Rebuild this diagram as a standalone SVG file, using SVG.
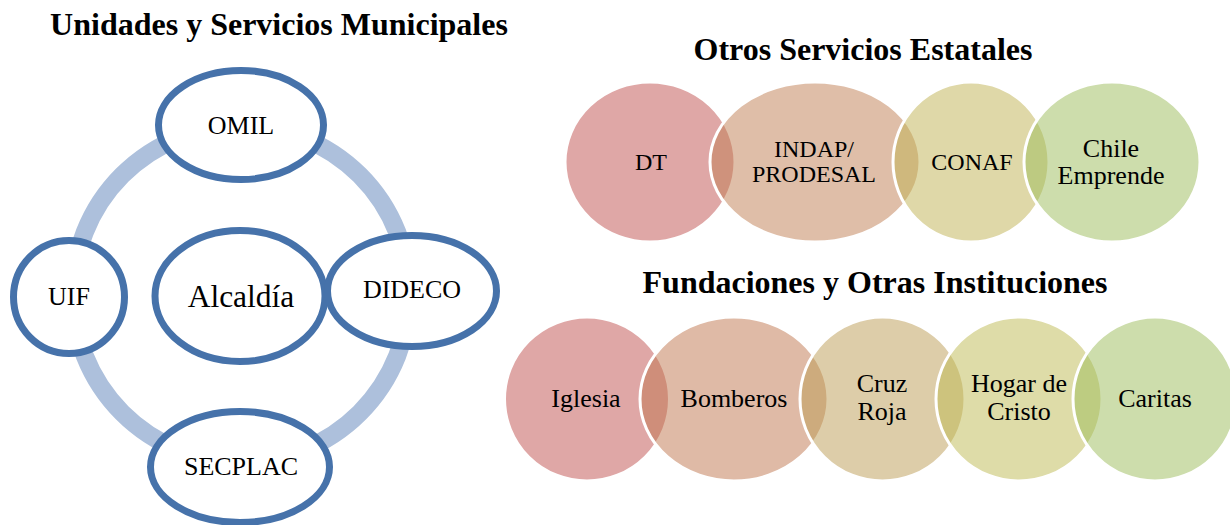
<svg xmlns="http://www.w3.org/2000/svg" width="1230" height="525" viewBox="0 0 1230 525">
<style>
.title{font-family:"Liberation Serif","Times New Roman",serif;font-weight:bold;font-size:32px;fill:#000;text-anchor:middle}
.unit{fill:#fff;stroke:#4672aa;stroke-width:7}
.lbl{font-family:"Liberation Serif","Times New Roman",serif;font-size:26px;fill:#000;text-anchor:middle}
.big{font-size:31.5px}
.venn{stroke:#fff;stroke-width:3;fill-opacity:0.5}
.t24{font-family:"Liberation Serif","Times New Roman",serif;font-size:24px;fill:#000;text-anchor:middle}
</style>
<rect width="1230" height="525" fill="#fff"/>
<text class="title" x="279" y="35">Unidades y Servicios Municipales</text>
<text class="title" x="863" y="60">Otros Servicios Estatales</text>
<text class="title" x="875" y="293">Fundaciones y Otras Instituciones</text>

<g id="connectors">
<circle cx="241" cy="294" r="168" fill="none" stroke="#adc0dc" stroke-width="18"/>
</g>

<g id="node-omil"><ellipse class="unit" cx="241" cy="125" rx="82.5" ry="54.5"/><text class="lbl" x="241" y="134">OMIL</text></g>
<g id="node-uif"><ellipse class="unit" cx="69" cy="297" rx="55.5" ry="56.5"/><text class="lbl" x="69" y="305">UIF</text></g>
<g id="node-alcaldia"><ellipse class="unit" cx="240" cy="296" rx="85" ry="65.5"/><text class="lbl big" x="241" y="307">Alcaldía</text></g>
<g id="node-dideco"><ellipse class="unit" cx="412" cy="291" rx="84.5" ry="55.5"/><text class="lbl" x="412" y="298">DIDECO</text></g>
<g id="node-secplac"><ellipse class="unit" cx="240" cy="467" rx="89.5" ry="55.5"/><text class="lbl" x="241" y="475">SECPLAC</text></g>

<g id="node-dt"><ellipse class="venn" fill="#C0504D" cx="650" cy="162" rx="85" ry="80"/><text class="t24" x="651" y="170">DT</text></g>
<g id="node-indap"><ellipse class="venn" fill="#BF7D51" cx="815" cy="162" rx="105" ry="80"/><text class="t24" x="814" y="157">INDAP/</text><text class="t24" x="814" y="182">PRODESAL</text></g>
<g id="node-conaf"><ellipse class="venn" fill="#BFB151" cx="971" cy="162" rx="78" ry="80"/><text class="t24" x="972" y="170">CONAF</text></g>
<g id="node-chile"><ellipse class="venn" fill="#9BBB59" cx="1112" cy="162" rx="88" ry="80"/><text class="lbl" x="1111" y="157">Chile</text><text class="lbl" x="1111" y="184">Emprende</text></g>

<g id="node-iglesia"><ellipse class="venn" fill="#C0504D" cx="587" cy="399" rx="82.5" ry="82"/><text class="lbl" x="586" y="407">Iglesia</text></g>
<g id="node-bomberos"><ellipse class="venn" fill="#BF754D" cx="734" cy="399" rx="94" ry="82"/><text class="lbl" x="734" y="407">Bomberos</text></g>
<g id="node-cruz"><ellipse class="venn" fill="#BB9B53" cx="882.5" cy="399" rx="82.5" ry="82"/><text class="lbl" x="882" y="392">Cruz</text><text class="lbl" x="882" y="420">Roja</text></g>
<g id="node-hogar"><ellipse class="venn" fill="#BDB951" cx="1019" cy="399" rx="83" ry="82"/><text class="lbl" x="1019" y="392">Hogar de</text><text class="lbl" x="1019" y="420">Cristo</text></g>
<g id="node-caritas"><ellipse class="venn" fill="#9BBB59" cx="1155" cy="399" rx="82" ry="82"/><text class="lbl" x="1155" y="407">Caritas</text></g>
</svg>
